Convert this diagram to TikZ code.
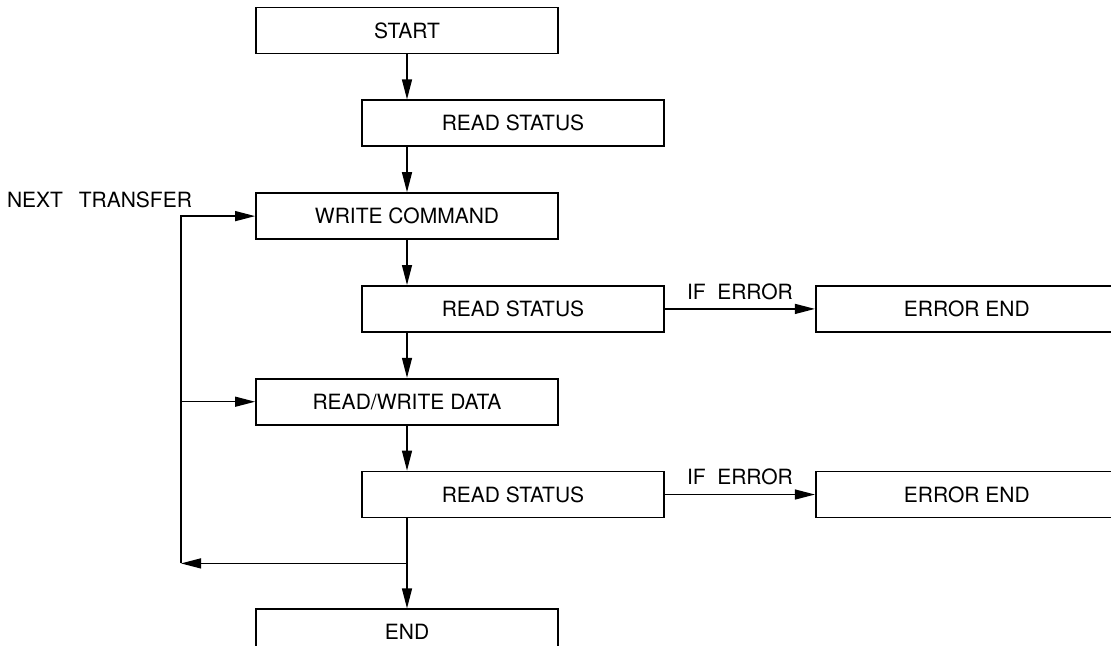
\documentclass[tikz,border=0pt]{standalone}
\usepackage{fontspec}
\setmainfont{TeX Gyre Heros}
\usetikzlibrary{positioning,arrows.meta,calc}

\begin{document}
\begin{tikzpicture}[
    box/.style ={
        rectangle,
        draw=black,
        line width=0.9pt,
        minimum width=151pt,
        minimum height=23pt,
        inner sep=0pt,
        font=\fontsize{10.5pt}{12pt}\selectfont
    },
    lbl/.style ={
        font=\fontsize{10.5pt}{12pt}\selectfont
    },
    node distance=22.5pt,
    >={Triangle[length=10pt,width=5pt]}
    ]

    \useasboundingbox (0,0) rectangle (555.5pt,-322.5pt);

    \node[box] (start) at (203.5pt,-15.25pt) {START};
    \node[box] (rs1) [below=of start, xshift=53pt] {READ STATUS};
    \node[box] (wc) [below=of rs1, xshift=-53pt] {WRITE COMMAND};
    \node[box] (rs2) [below=of wc, xshift=53pt] {READ STATUS};
    \node[box] (err1) [right=75pt of rs2] {ERROR END};
    \node[box] (rwd) [below=of rs2, xshift=-53pt] {READ/WRITE DATA};
    \node[box] (rs3) [below=of rwd, xshift=53pt] {READ STATUS};
    \node[box] (err2) [right=75pt of rs3] {ERROR END};
    \node[box] (end) [below=45pt of rs3, xshift=-53pt] {END};

    \foreach \src/ \dst in {start/rs1, rs1/wc, wc/rs2, rs2/rwd, rwd/rs3, rs3/end}
        \draw[->,line width=0.65pt] (\src.south -| start) -- (\dst.north -| start);

    \foreach \src/ \dst in {rs2/err1, rs3/err2}
        \draw[->,line width=0.65pt] (\src) -- node[lbl, above=1pt] {IF\hspace{0.55em}ERROR} (\dst);

    % loop back for the next transfer
    \coordinate (jn) at ($(rs3.south -| start)!0.5!(end.north)$);
    \coordinate[left=113pt of jn] (back);
    \draw[->,line width=0.65pt] (jn) -- (back);
    \draw[->,line width=0.65pt] (back) |- (wc);
    \draw[->,line width=0.65pt] (back |- rwd) -- (rwd);
    \node[lbl, anchor=east] (next) at ($(back |- wc)+(9pt,8pt)$) {NEXT\hspace{0.75em}TRANSFER};
\end{tikzpicture}
\end{document}
